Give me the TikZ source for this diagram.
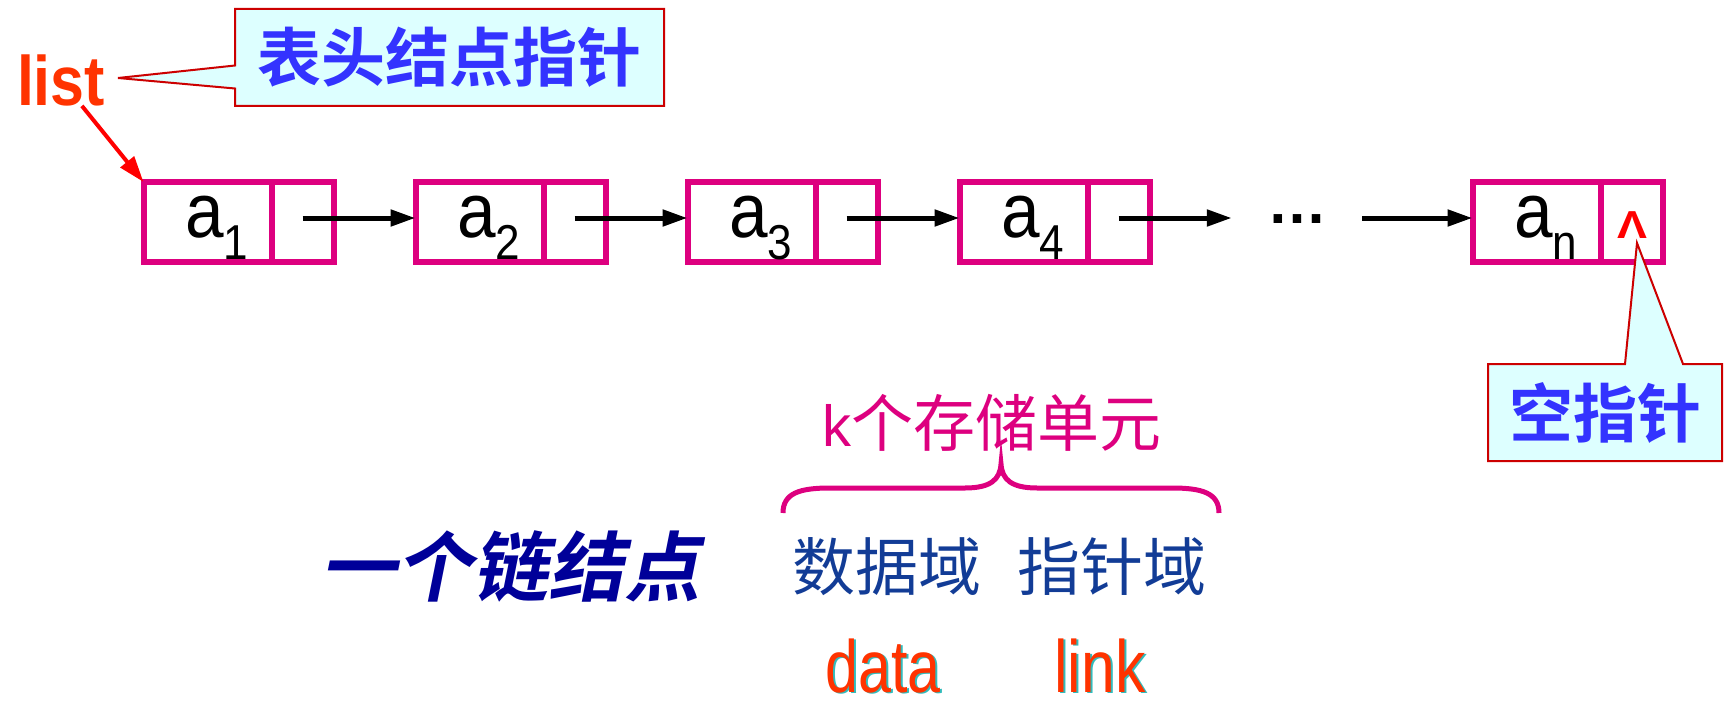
\documentclass[tikz,border=0pt]{standalone}
\usepackage{fontspec}
\setmainfont{Liberation Sans}
\newfontfamily\cjk{Noto Sans CJK SC}
\newfontfamily\cjkb{Noto Sans CJK SC Bold}
\newfontfamily\cjkbi{Noto Sans CJK SC Bold}[FakeSlant=0.2]
\usetikzlibrary{arrows.meta}
\newcommand\myfs[1]{\fontsize{#1}{#1}\selectfont}
\newcommand\alab[1]{\scalebox{0.9}[1]{\myfs{77}a}\raisebox{-22pt}{\scalebox{0.9}[1]{\myfs{49}#1}}}
\definecolor{boxc}{HTML}{DD007F}
\definecolor{redt}{HTML}{FF3300}
\definecolor{calfill}{HTML}{DDFFFF}
\definecolor{caldraw}{HTML}{CC0000}
\definecolor{calt}{HTML}{3333FF}
\definecolor{navyt}{HTML}{123C96}
\definecolor{dnavy}{HTML}{000099}
\definecolor{shad}{HTML}{33BBBB}
\begin{document}
\begin{tikzpicture}[x=1pt,y=-1pt,
  dcell/.style={draw=boxc,line width=6pt,minimum width=128pt,minimum height=80pt,inner sep=0pt,outer sep=0pt},
  pcell/.style={dcell,minimum width=62pt,anchor=west},
  arr/.style={line width=5pt,-{Triangle[length=25pt,width=16pt]}},
  redarr/.style={draw=red,line width=4pt,-{Triangle[length=26pt,width=17pt]}},
  lbl/.style={anchor=base west,inner sep=0pt},
  callout/.style={fill=calfill,draw=caldraw,line width=2pt,line join=miter},
  cbox/.style={inner sep=0pt,outer sep=0pt,text=calt,font=\cjkb\myfs{64}},
  redword/.style={anchor=base,inner sep=0pt,text=redt},
  shadword/.style={anchor=base,inner sep=0pt,text=shad}]
\useasboundingbox (0,0) rectangle (1729,706);

% linked list cells
\node[dcell] (d1) at (207.5,222) {};
\node[pcell] (p1) at (d1.east) {};
\node[dcell] (d2) at (479.5,222) {};
\node[pcell] (p2) at (d2.east) {};
\node[dcell] (d3) at (751.5,222) {};
\node[pcell] (p3) at (d3.east) {};
\node[dcell] (d4) at (1023.5,222) {};
\node[pcell] (p4) at (d4.east) {};
\node[dcell] (dn) at (1536.5,222) {};
\node[pcell] (pn) at (dn.east) {};

% labels
\node[lbl] (t1) at (185,237) {\alab{1}};
\node[lbl] (t2) at (457,237) {\alab{2}};
\node[lbl] (t3) at (729,237) {\alab{3}};
\node[lbl] (t4) at (1001,237) {\alab{4}};
\node[lbl] (tn) at (1514,237) {\alab{n}};

% dots
\node[anchor=base,inner xsep=35pt,inner ysep=0pt,font=\bfseries\myfs{60}] (dots) at (1297,223) {…};

% arrows
\draw[arr] ([yshift=4pt]p1.center) -- ([yshift=4pt]d2.west);
\draw[arr] ([yshift=4pt]p2.center) -- ([yshift=4pt]d3.west);
\draw[arr] ([yshift=4pt]p3.center) -- ([yshift=4pt]d4.west);
\draw[arr] ([yshift=4pt]p4.center) -- ([yshift=4pt]p4.center -| dots.west);
\draw[arr] ([yshift=4pt]dn.west -| dots.east) -- ([yshift=4pt]dn.west);

% null pointer
\node[anchor=base,inner sep=0pt,text=red,font=\bfseries\myfs{39}] (nul) at (1632,238) {\scalebox{1.15}[1]{Λ}};

% list head
\node[inner sep=0pt,text=redt,font=\bfseries\myfs{70}] (list) at (61,80) {\scalebox{0.87}[1]{list}};
\draw[redarr] (list) -- (d1.north west);

% callout 1
\coordinate (tip1) at (118,78);
\node[cbox,minimum width=429pt,minimum height=97pt] (c1) at (449.5,57.5) {};
\path[callout] (c1.north west) -- (c1.north east) -- (c1.south east) -- (c1.south west)
  -- ([yshift=-31pt]c1.west) -- (tip1) -- ([yshift=-8pt]c1.west) -- cycle;
\node[cbox] (c1t) at (c1.center) {表头结点指针};

% callout 2
\coordinate (tip2) at (1637,243);
\node[cbox,minimum width=234pt,minimum height=97pt] (c2) at (1605,412.5) {};
\path[callout] (c2.north west) -- ([xshift=20pt]c2.north) -- (tip2) -- ([xshift=78pt]c2.north)
  -- (c2.north east) -- (c2.south east) -- (c2.south west) -- cycle;
\node[cbox] (c2t) at (c2.center) {空指针};

% bottom part
\node[inner sep=0pt,text=boxc,font=\myfs{62}] (kcell) at (992,423) {{\myfs{58}k}{\cjk 个存储单元}};
\draw[boxc,line width=5pt] (783,513) .. controls (783,493) and (800,488) .. (830,488) -- (965,488)
  .. controls (990,488) and (1000,480) .. (1001,464)
  .. controls (1002,480) and (1012,488) .. (1037,488) -- (1172,488)
  .. controls (1202,488) and (1219,493) .. (1219,513);

\node[inner sep=0pt,text=dnavy,font=\cjkbi\myfs{76}] (one) at (510,566) {一个链结点};
\node[inner sep=0pt,text=navyt,font=\cjk\myfs{63}] (df) at (887,567) {数据域};
\node[inner sep=0pt,text=navyt,font=\cjk\myfs{63}] (pf) at (1112,567) {指针域};

\node[shadword] (datas) at (885,693) {\myfs{74}\scalebox{0.8}[1]{data}};
\node[redword] (data) at (883,692) {\myfs{74}\scalebox{0.8}[1]{data}};
\node[shadword] (links) at (1102,693) {\myfs{74}\scalebox{0.82}[1]{link}};
\node[redword] (link) at (1100,692) {\myfs{74}\scalebox{0.82}[1]{link}};
\end{tikzpicture}
\end{document}
